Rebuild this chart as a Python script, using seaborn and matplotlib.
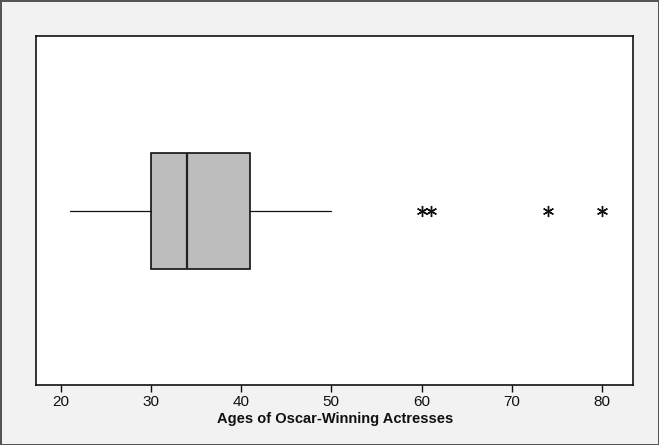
import matplotlib
import matplotlib.pyplot as plt
import seaborn as sns

matplotlib.use("Agg")

# ── Data ─────────────────────────────────────────────────────────────────────
whisker_low = 21
q1 = 30
median = 34
q3 = 41
whisker_high = 50
outliers = [60, 61, 74, 80]

x_ticks = [20, 30, 40, 50, 60, 70, 80]
x_label = "Ages of Oscar-Winning Actresses"

# ── Style ────────────────────────────────────────────────────────────────────
sns.set_theme(style="white")
plt.rcParams["font.family"] = ["Liberation Sans", "DejaVu Sans"]

fig = plt.figure(figsize=(6.59, 4.45), dpi=100, facecolor="#f2f2f2")
fig.patch.set_edgecolor("#555555")
fig.patch.set_linewidth(1.0)
ax = fig.add_axes([0.0546, 0.1348, 0.9067, 0.7832])
ax.set_facecolor("white")

stats = [{
    "whislo": whisker_low,
    "q1": q1,
    "med": median,
    "q3": q3,
    "whishi": whisker_high,
    "fliers": outliers,
}]

ax.bxp(
    stats,
    positions=[0],
    widths=0.333,
    vert=False,
    patch_artist=True,
    showcaps=False,
    boxprops=dict(facecolor="#bdbdbd", edgecolor="#111111", linewidth=1.2),
    medianprops=dict(color="#222222", linewidth=1.6),
    whiskerprops=dict(color="#111111", linewidth=0.9),
    flierprops=dict(marker=(6, 2, 0), markersize=8, markeredgecolor="#111111",
                    markeredgewidth=1.0, linestyle="none"),
)

ax.set_xlim(17.26, 83.5)
ax.set_ylim(-0.5, 0.5)
ax.set_yticks([])
ax.set_xticks(x_ticks)
ax.tick_params(axis="x", direction="out", length=5, width=1, color="#111111",
               labelsize=11, labelcolor="#111111", pad=2, bottom=True)
ax.set_xlabel(x_label, fontsize=10.5, fontweight="bold", color="#111111", labelpad=2)

for spine in ax.spines.values():
    spine.set_color("#111111")
    spine.set_linewidth(1.2)

fig.savefig("out.png", dpi=100, facecolor=fig.get_facecolor(), edgecolor=fig.patch.get_edgecolor())
plt.close(fig)
